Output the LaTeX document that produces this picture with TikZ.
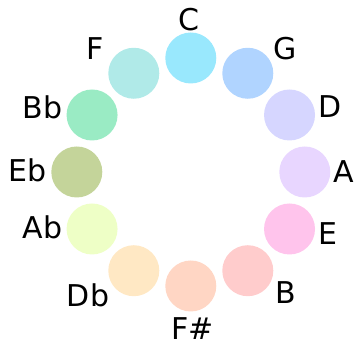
\documentclass[tikz,border=0pt]{standalone}
\usepackage{fontspec}
\setmainfont{DejaVu Sans}
\usepackage{tikz}
\usetikzlibrary{calc}

% pastel fill for every key
\definecolor{keyC}{HTML}{99E8FD}
\definecolor{keyG}{HTML}{B0D4FF}
\definecolor{keyD}{HTML}{D6D6FF}
\definecolor{keyA}{HTML}{E8D6FF}
\definecolor{keyE}{HTML}{FFC4EC}
\definecolor{keyB}{HTML}{FFCCCC}
\definecolor{keyFs}{HTML}{FFD6C4}
\definecolor{keyDb}{HTML}{FFE8C4}
\definecolor{keyAb}{HTML}{EEFFC6}
\definecolor{keyEb}{HTML}{C4D49A}
\definecolor{keyBb}{HTML}{9AEBC4}
\definecolor{keyF}{HTML}{B0EAE8}

\begin{document}
\begin{tikzpicture}[x=0.75pt,y=0.75pt,
        key/.style={circle,minimum size=51*0.75pt,inner sep=0pt},
        keyname/.style={inner sep=0pt,font=\fontsize{22.5}{27}\selectfont}]
        \useasboundingbox (0,0) rectangle (355,345);
        \coordinate (centre) at (190.8,173);

        % the twelve keys, clockwise from the top
        \foreach \k/\col/\txt/\lx/\ly [count=\i from 0] in {
                C/keyC/C/188.5/325.5,
                G/keyG/G/285/296.5,
                D/keyD/D/330/238,
                A/keyA/A/344/173,
                E/keyE/E/328/111.5,
                B/keyB/B/286/52,
                Fs/keyFs/F\#/192.5/16.5,
                Db/keyDb/Db/88/50,
                Ab/keyAb/Ab/42.5/117.5,
                Eb/keyEb/Eb/27.5/174.5,
                Bb/keyBb/Bb/42.5/238,
                F/keyF/F/95.5/296.5}
        {
            \node[key,fill=\col] (\k) at ($(centre)+(90-30*\i:114)$) {};
            \node[keyname] (name\k) at (\lx,\ly) {\txt};
        }
    \end{tikzpicture}
\end{document}
